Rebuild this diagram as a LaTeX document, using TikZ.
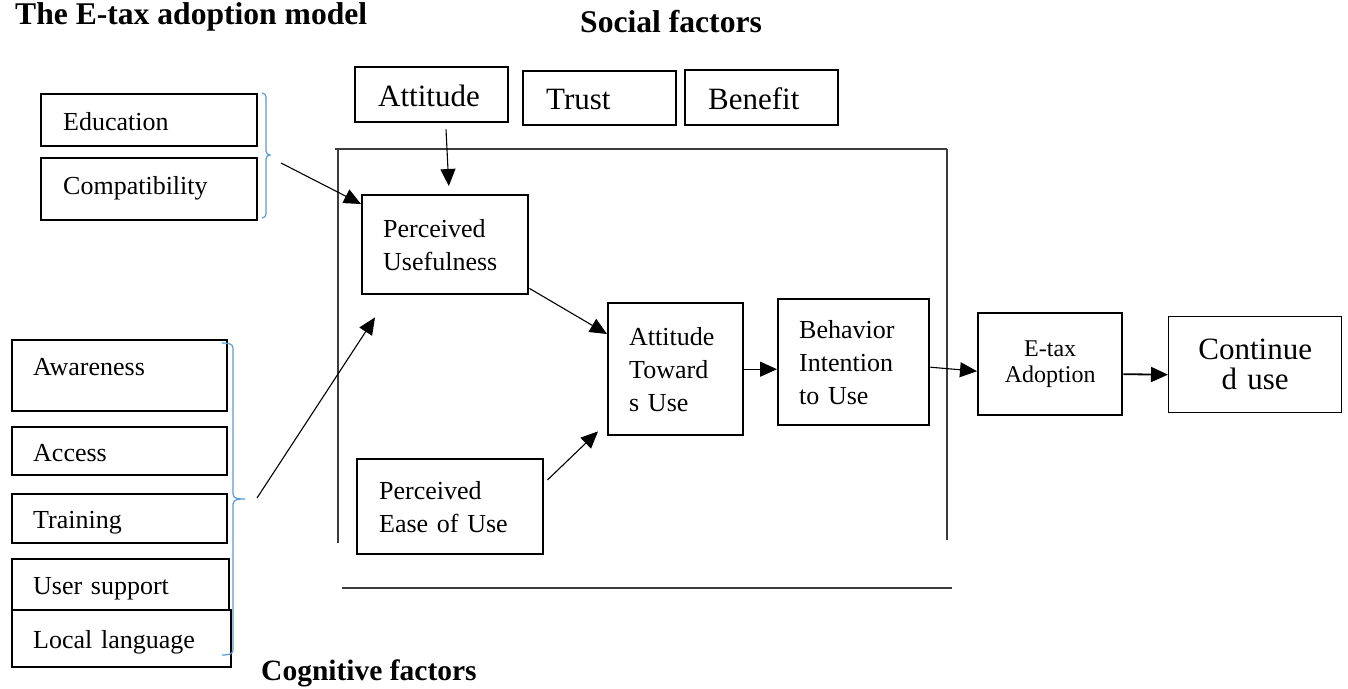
\documentclass[tikz,border=0pt]{standalone}
\usepackage{fontspec}
\setmainfont{Liberation Serif}
\usepackage{tikz}
\usetikzlibrary{arrows.meta}
\definecolor{braceblue}{RGB}{91,155,213}
\definecolor{framegray}{RGB}{60,60,60}
\newcommand*{\factorfont}{\fontsize{26}{33}\selectfont}
\newcommand*{\topfont}{\fontsize{31}{36}\selectfont}
\newcommand*{\headingfont}[1][31.6]{\fontsize{#1}{36}\selectfont\bfseries}

\begin{document}
\begin{tikzpicture}[x=1pt, y=-1pt,
    arr/.style={-{Triangle[length=17pt,width=15pt]}, line width=1.1pt},
    brace/.style={braceblue, line width=1.2pt},
    frame/.style={framegray, line width=1.4pt}]
  \fill[white] (0,0) rectangle (1348,688);

  % headings
  \node[anchor=base west, inner sep=0pt, font=\headingfont] (title) at (15,24) {The E-tax adoption model};
  \node[anchor=base west, inner sep=0pt, font=\headingfont] (social) at (580,32) {Social factors};
  \node[anchor=base west, inner sep=0pt, font={\headingfont[29.5]}] (cognitive) at (261,680) {Cognitive factors};

  % frame round the model
  \draw[frame] (335,149) -- (947,149);
  \draw[frame] (338,149) -- (338,543);
  \draw[frame] (947,149) -- (947,540);
  \draw[frame] (342,588) -- (952,588);

  {\tikzstyle{every node}=[draw, line width=2.4pt, anchor=north west, inner ysep=0pt,
      inner xsep=21pt, align=left, font=\factorfont]
    % single line boxes
    \node[minimum width=216pt, minimum height=52pt, text width=172pt,
      text height=20pt, text depth=0pt] (edu) at (40,93) {Education};
    \node[minimum width=216pt, minimum height=62pt, text width=172pt,
      text height=20pt, text depth=10pt] (comp) at (40,157) {Compatibility};
    \foreach \n/\y/\h/\w/\d/\t in {aware/339/71/215/20/Awareness,
        access/426/48/215/0/Access, train/493/49/215/0/Training,
        support/558/51/217/0/User support, lang/609/57/219/0/Local language}
    {
      \node[minimum width=\w pt, minimum height=\h pt, text width=\w pt-42pt,
        text height=20pt, text depth=\d pt] (\n) at (11,\y) {\t};
    }
    \foreach \n/\x/\y/\h/\t in {att/354/66/55/Attitude, trust/522/70/54/Trust,
        benefit/684/69/55/Benefit}
    {
      \node[minimum width=153pt, minimum height=\h pt, text width=107pt,
        inner xsep=23pt, text height=23pt, text depth=0pt, font=\topfont] (\n) at (\x,\y) {\t};
    }
    % model boxes
    \node[minimum width=166pt, minimum height=99pt, text width=124pt] (pu) at (361,194) {Perceived\\Usefulness};
    \node[minimum width=186pt, minimum height=95pt, text width=142pt,
      inner xsep=22pt] (peou) at (356,458) {Perceived\\Ease of Use};
    \node[minimum width=135pt, minimum height=132pt, text width=93pt] (atu) at (607,302) {Attitude\\Toward\\s Use};
    \node[minimum width=151pt, minimum height=126pt, text width=109pt] (bi) at (777,298) {Behavior\\Intention\\to Use};
    \node[minimum width=144pt, minimum height=102pt, text width=120pt, inner xsep=12pt,
      align=center, font=\fontsize{24}{26}\selectfont] (etax) at (977,312) {E-tax\\Adoption};
    \node[minimum width=173pt, minimum height=96pt, text width=150pt, inner xsep=11pt,
      align=center, line width=1.3pt, font=\fontsize{31}{30}\selectfont] (cont) at (1168,316) {Continue\\d use};
  }

  % braces
  \draw[brace] (262,93) to[out=0,in=90] (266,97) -- (266,151)
    to[out=-90,in=180] (270,155) to[out=180,in=90] (266,159) -- (266,214)
    to[out=-90,in=0] (262,218);
  \draw[brace] (222,343) to[out=0,in=90] (233,348) -- (233,494)
    to[out=-90,in=180] (245,499) to[out=180,in=90] (233,504) -- (233,650)
    to[out=-90,in=0] (222,655);
  \coordinate (edutail) at (281,163);
  \coordinate (cogtail) at (257,498);

  % connectors
  \draw[arr] (edutail) -- ([yshift=-10pt]pu.north west);
  \draw[arr] (cogtail) -- ([shift={(14pt,-22pt)}]pu.south west);
  \draw[arr, shorten <=6pt, shorten >=8pt] ([xshift=14pt]att.south) -- ([xshift=4pt]pu.north);
  \draw[arr] ([yshift=7pt]pu.south east) -- ([yshift=-32pt]atu.north west);
  \draw[arr] ([shift={(3pt,-22pt)}]peou.north east) -- ([shift={(-9pt,5pt)}]atu.south west);
  \draw[arr] (atu.east) -- (atu.east -| bi.west);
  \draw[arr] ([yshift=-5pt]bi.east) -- ([yshift=-7pt]etax.west);
  \draw[arr, line width=1.8pt] ([yshift=-10pt]etax.east) -- ([yshift=-10pt]cont.west);
\end{tikzpicture}
\end{document}
